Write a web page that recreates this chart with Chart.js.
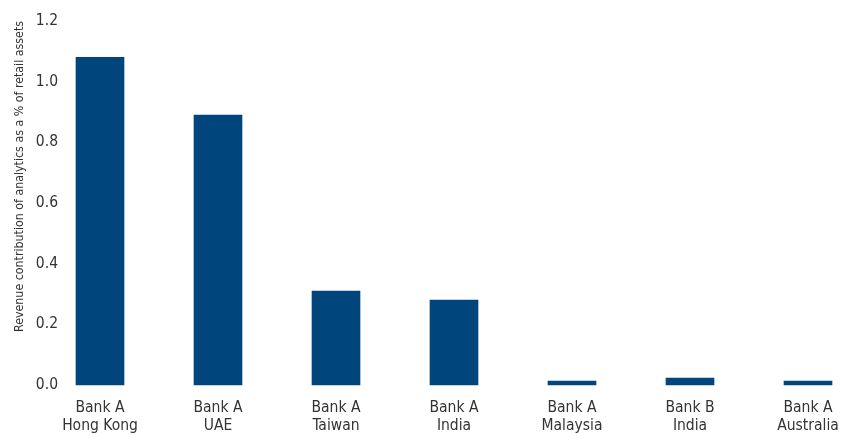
<!DOCTYPE html>
<html>
<head>
<meta charset="utf-8">
<script src="https://cdn.jsdelivr.net/npm/chart.js@4"></script>
<style>
  body { margin: 0; background: #fff; }
  #wrap { width: 841px; height: 438px; position: relative; }
</style>
</head>
<body>
<div id="wrap"><canvas id="chart"></canvas></div>
<script>
// bank / market pairs, shown as two-line labels
const banks = ['Bank A', 'Bank A', 'Bank A', 'Bank A', 'Bank A', 'Bank B', 'Bank A'];
const markets = ['Hong Kong', 'UAE', 'Taiwan', 'India', 'Malaysia', 'India', 'Australia'];
// revenue contribution of analytics, % of retail assets
const revenueShare = [1.08, 0.89, 0.31, 0.28, 0.013, 0.023, 0.013];
const yTicks = [0, 0.2, 0.4, 0.6, 0.8, 1.0, 1.2];

const FONT = '"DejaVu Sans Condensed", "Liberation Sans", sans-serif';
const TEXT = '#333333';
const BAR = '#00457c';

const labels = banks.map((b, i) => [b, markets[i]]);

new Chart(document.getElementById('chart'), {
  type: 'bar',
  data: {
    labels,
    datasets: [{
      data: revenueShare,
      backgroundColor: BAR,
      barThickness: 48,
      clip: false
    }]
  },
  options: {
    responsive: true,
    maintainAspectRatio: false,
    animation: false,
    layout: { padding: { top: 21, right: 33, bottom: 0, left: 0 } },
    plugins: { legend: { display: false }, tooltip: { enabled: false } },
    scales: {
      x: {
        // bars sit on the tick positions, first and last at the plot edges
        offset: false,
        grid: { display: false, drawTicks: false },
        border: { display: false },
        ticks: {
          color: TEXT,
          font: { family: FONT, size: 15.5, lineHeight: 1.18 },
          padding: 14,
          maxRotation: 0,
          autoSkip: false
        },
        afterFit: s => { s.height = 53; s.paddingLeft = 0; s.paddingRight = 0; }
      },
      y: {
        min: 0,
        max: 1.2,
        grid: { display: false, drawTicks: false },
        border: { display: false },
        afterBuildTicks: s => { s.ticks = yTicks.map(v => ({ value: v })); },
        ticks: {
          color: TEXT,
          font: { family: FONT, size: 15.5 },
          padding: 42,
          callback: v => v.toFixed(1)
        },
        title: {
          display: true,
          align: 'end',
          text: 'Revenue contribution of analytics as a % of retail assets',
          color: TEXT,
          font: { family: FONT, size: 12.3 },
          padding: { top: 12, bottom: 0 }
        },
        afterFit: s => { s.width = 100; s.paddingTop = 0; s.paddingBottom = 0; }
      }
    }
  }
});
</script>
</body>
</html>
